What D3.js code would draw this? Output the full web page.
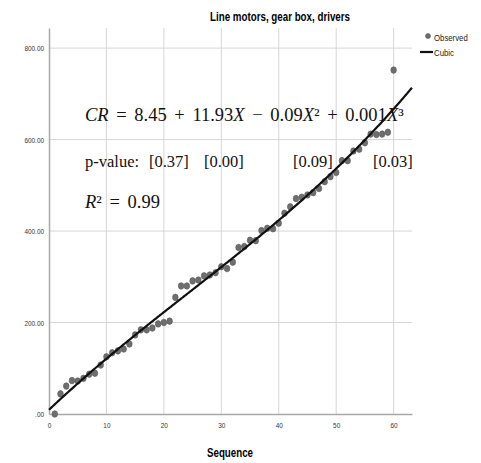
<!DOCTYPE html>
<html>
<head>
<meta charset="utf-8">
<script src="https://cdn.jsdelivr.net/npm/d3@7"></script>
<style>
  body { margin: 0; background: #fff; }
  .tick-label { font-family: 'Liberation Sans', Arial, sans-serif; font-size: 8px; fill: #333; }
  .eq { font-family: 'Liberation Serif', 'Times New Roman', serif; fill: #111; }
</style>
</head>
<body>
<div id="chart"></div>
<script>
// observed values by sequence 1..60
const sequence = d3.range(1, 61);
const observed = [
  0, 44, 61, 73, 72, 78, 87, 89, 107, 125,
  134, 138, 142, 153, 173, 184, 184, 188, 197, 200,
  203, 255, 280, 280, 291, 293, 302, 304, 309, 322,
  318, 332, 364, 366, 380, 379, 401, 406, 405, 417,
  439, 453, 471, 474, 479, 484, 493, 508, 519, 528,
  554, 554, 575, 579, 593, 612, 611, 612, 616, 752
];
const xTicks = [0, 10, 20, 30, 40, 50, 60];
const yTicks = [0, 200, 400, 600, 800];
const yTickLabels = ['.00', '200.00', '400.00', '600.00', '800.00'];
const legendLabels = ['Observed', 'Cubic'];
const pLabels = ['p-value:', '[0.37]', '[0.00]', '[0.09]', '[0.03]'];

const width = 481;
const height = 463;
const narrow = 0.8; // squeeze for the narrow SPSS font

// least squares cubic fit of observed vs sequence
function cubicFit(xs, ys) {
  let n = 4;
  let A = [];
  for (let r = 0; r < n; r++) {
    A.push([]);
    for (let c = 0; c < n; c++) {
      A[r].push(d3.sum(xs, x => Math.pow(x, r + c)));
    }
    A[r].push(d3.sum(xs, (x, i) => ys[i] * Math.pow(x, r)));
  }
  for (let i = 0; i < n; i++) {
    let p = i;
    for (let k = i + 1; k < n; k++) if (Math.abs(A[k][i]) > Math.abs(A[p][i])) p = k;
    [A[i], A[p]] = [A[p], A[i]];
    for (let k = i + 1; k < n; k++) {
      let f = A[k][i] / A[i][i];
      for (let j = i; j <= n; j++) A[k][j] -= f * A[i][j];
    }
  }
  let b = new Array(n).fill(0);
  for (let i = n - 1; i >= 0; i--) {
    let s = A[i][n];
    for (let j = i + 1; j < n; j++) s -= A[i][j] * b[j];
    b[i] = s / A[i][i];
  }
  return b;
}

function squeeze(sel, k) {
  sel.each(function() {
    let w = this.getComputedTextLength();
    d3.select(this).attr('textLength', w * k).attr('lengthAdjust', 'spacingAndGlyphs');
  });
}

const coef = cubicFit(sequence, observed);
const cubic = x => coef[0] + coef[1] * x + coef[2] * x * x + coef[3] * x * x * x;

const x = d3.scaleLinear().domain([0, 63.2]).range([49, 412]);
const y = d3.scaleLinear().domain([0, 844]).range([414, 28]);

const svg = d3.select('#chart')
  .append('svg')
  .attr('width', width)
  .attr('height', height);

// grid
svg.append('g')
  .selectAll('line')
  .data(xTicks.slice(1))
  .enter().append('line')
  .attr('x1', d => x(d)).attr('x2', d => x(d))
  .attr('y1', y.range()[1]).attr('y2', y.range()[0])
  .style('stroke', '#d6d6d6')
  .style('stroke-width', 1);

svg.append('g')
  .selectAll('line')
  .data(yTicks.slice(1))
  .enter().append('line')
  .attr('x1', x.range()[0]).attr('x2', x.range()[1])
  .attr('y1', d => y(d)).attr('y2', d => y(d))
  .style('stroke', '#d6d6d6')
  .style('stroke-width', 1);

// axes
const xAxis = svg.append('g')
  .attr('transform', 'translate(0,' + y(0) + ')')
  .call(d3.axisBottom(x).tickValues(xTicks).tickSize(0).tickPadding(8));
const yAxis = svg.append('g')
  .attr('transform', 'translate(' + x(0) + ',0)')
  .call(d3.axisLeft(y).tickValues(yTicks).tickSize(0).tickPadding(5)
    .tickFormat((d, i) => yTickLabels[i]));

[xAxis, yAxis].forEach(function(a) {
  a.select('.domain').style('stroke', '#a8a8a8').style('stroke-width', 1.5);
  a.selectAll('text').attr('class', 'tick-label').attr('fill', null).call(squeeze, narrow);
});

// points
svg.append('g')
  .selectAll('ellipse')
  .data(sequence)
  .enter().append('ellipse')
  .attr('cx', d => x(d))
  .attr('cy', (d, i) => y(observed[i]))
  .attr('rx', 2.8)
  .attr('ry', 3.3)
  .style('fill', '#6e6e6e')
  .style('stroke', '#5a5a5a')
  .style('stroke-width', 0.6);

// fit line
const fitX = d3.range(0, 63.21, 0.2);
svg.append('path')
  .datum(fitX)
  .attr('d', d3.line().x(d => x(d)).y(d => y(cubic(d))))
  .style('fill', 'none')
  .style('stroke', '#111')
  .style('stroke-width', 2.2);

// title and x label
svg.append('text')
  .attr('x', 210).attr('y', 21)
  .style('font-family', "'Liberation Sans', Arial, sans-serif")
  .style('font-weight', 'bold')
  .style('font-size', '12px')
  .attr('textLength', 140)
  .attr('lengthAdjust', 'spacingAndGlyphs')
  .text('Line motors, gear box, drivers');

svg.append('text')
  .attr('x', 207).attr('y', 457)
  .style('font-family', "'Liberation Sans', Arial, sans-serif")
  .style('font-weight', 'bold')
  .style('font-size', '12px')
  .attr('textLength', 46)
  .attr('lengthAdjust', 'spacingAndGlyphs')
  .text('Sequence');

// legend
const legend = svg.append('g');
legend.append('circle')
  .attr('cx', 428).attr('cy', 36).attr('r', 2.5)
  .style('fill', '#6e6e6e').style('stroke', '#5a5a5a').style('stroke-width', 0.6);
legend.append('line')
  .attr('x1', 420).attr('x2', 433).attr('y1', 52).attr('y2', 52)
  .style('stroke', '#111').style('stroke-width', 2.2);
legend.selectAll('text')
  .data(legendLabels)
  .enter().append('text')
  .attr('class', 'tick-label')
  .attr('x', 434)
  .attr('y', (d, i) => 40.5 + i * 15.5)
  .style('font-size', '9.5px')
  .style('fill', '#222')
  .text(d => d)
  .call(squeeze, 0.82);

// equation annotation
const eq = svg.append('text').attr('class', 'eq')
  .attr('x', 85).attr('y', 121)
  .style('font-size', '18.5px')
  .style('word-spacing', '3px');
eq.append('tspan').style('font-style', 'italic').text('CR');
eq.append('tspan').text(' = 8.45 + 11.93');
eq.append('tspan').style('font-style', 'italic').text('X');
eq.append('tspan').text(' − 0.09');
eq.append('tspan').style('font-style', 'italic').text('X');
eq.append('tspan').text('² + 0.001');
eq.append('tspan').style('font-style', 'italic').text('X');
eq.append('tspan').text('³');

const pX = [85, 149, 204, 293, 373];
svg.append('g').selectAll('text')
  .data(pLabels)
  .enter().append('text')
  .attr('class', 'eq')
  .attr('x', (d, i) => pX[i]).attr('y', 167)
  .style('font-size', '16.5px')
  .text(d => d);

const r2 = svg.append('text').attr('class', 'eq')
  .attr('x', 85).attr('y', 208)
  .style('font-size', '18.5px')
  .style('word-spacing', '3px');
r2.append('tspan').style('font-style', 'italic').text('R');
r2.append('tspan').text('² = 0.99');
</script>
</body>
</html>
